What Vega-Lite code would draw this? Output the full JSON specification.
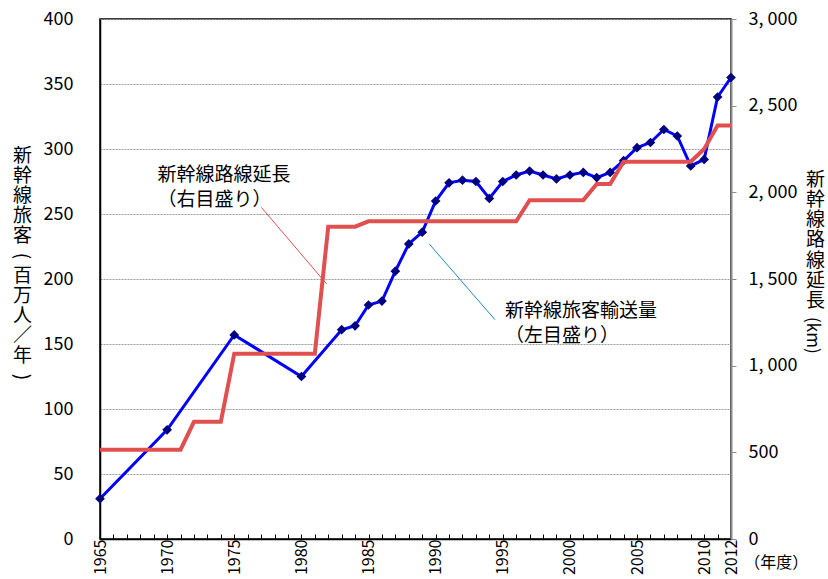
{
  "$schema": "https://vega.github.io/schema/vega-lite/v6.json",
  "width": 631,
  "height": 520,
  "autosize": {"type": "none"},
  "padding": {"left": 100, "top": 19, "right": 97, "bottom": 40},
  "background": "#ffffff",
  "config": {
    "font": "Noto Sans CJK JP",
    "view": {"stroke": "#000000", "strokeWidth": 1.5},
    "axisX": {
      "tickCount": 47,
      "labelExpr": "(datum.value % 5 == 0 || datum.value == 2012) ? format(datum.value, 'd') : ''",
      "grid": false,
      "domainColor": "#000000",
      "domainWidth": 1.5,
      "ticks": true,
      "tickColor": "#000000",
      "tickWidth": 1,
      "tickSize": -5,
      "labelAngle": -90,
      "labelAlign": "right",
      "labelBaseline": "middle",
      "labelPadding": 5,
      "labelFontSize": 16,
      "labelColor": "#000000",
      "labelOverlap": false,
      "labelFlush": false
    }
  },
  "datasets": {
    "passengers": [
      {"year": 1965, "value": 31}, {"year": 1970, "value": 84}, {"year": 1975, "value": 157},
      {"year": 1980, "value": 125}, {"year": 1983, "value": 161}, {"year": 1984, "value": 164},
      {"year": 1985, "value": 180}, {"year": 1986, "value": 183}, {"year": 1987, "value": 206},
      {"year": 1988, "value": 227}, {"year": 1989, "value": 236}, {"year": 1990, "value": 260},
      {"year": 1991, "value": 274}, {"year": 1992, "value": 276}, {"year": 1993, "value": 275},
      {"year": 1994, "value": 262}, {"year": 1995, "value": 275}, {"year": 1996, "value": 280},
      {"year": 1997, "value": 283}, {"year": 1998, "value": 280}, {"year": 1999, "value": 277},
      {"year": 2000, "value": 280}, {"year": 2001, "value": 282}, {"year": 2002, "value": 278},
      {"year": 2003, "value": 282}, {"year": 2004, "value": 291}, {"year": 2005, "value": 301},
      {"year": 2006, "value": 305}, {"year": 2007, "value": 315}, {"year": 2008, "value": 310},
      {"year": 2009, "value": 287}, {"year": 2010, "value": 292}, {"year": 2011, "value": 340},
      {"year": 2012, "value": 355}
    ],
    "km": [
      {"year": 1965, "km": 515}, {"year": 1966, "km": 515}, {"year": 1967, "km": 515},
      {"year": 1968, "km": 515}, {"year": 1969, "km": 515}, {"year": 1970, "km": 515},
      {"year": 1971, "km": 515}, {"year": 1972, "km": 676}, {"year": 1973, "km": 676},
      {"year": 1974, "km": 676}, {"year": 1975, "km": 1069}, {"year": 1976, "km": 1069},
      {"year": 1977, "km": 1069}, {"year": 1978, "km": 1069}, {"year": 1979, "km": 1069},
      {"year": 1980, "km": 1069}, {"year": 1981, "km": 1069}, {"year": 1982, "km": 1802},
      {"year": 1983, "km": 1802}, {"year": 1984, "km": 1802}, {"year": 1985, "km": 1833},
      {"year": 1986, "km": 1833}, {"year": 1987, "km": 1833}, {"year": 1988, "km": 1833},
      {"year": 1989, "km": 1833}, {"year": 1990, "km": 1833}, {"year": 1991, "km": 1833},
      {"year": 1992, "km": 1833}, {"year": 1993, "km": 1833}, {"year": 1994, "km": 1833},
      {"year": 1995, "km": 1833}, {"year": 1996, "km": 1833}, {"year": 1997, "km": 1955},
      {"year": 1998, "km": 1955}, {"year": 1999, "km": 1955}, {"year": 2000, "km": 1955},
      {"year": 2001, "km": 1955}, {"year": 2002, "km": 2048}, {"year": 2003, "km": 2048},
      {"year": 2004, "km": 2177}, {"year": 2005, "km": 2177}, {"year": 2006, "km": 2177},
      {"year": 2007, "km": 2177}, {"year": 2008, "km": 2177}, {"year": 2009, "km": 2177},
      {"year": 2010, "km": 2250}, {"year": 2011, "km": 2385}, {"year": 2012, "km": 2385}
    ],
    "leaders": [
      {"which": "red", "x1": 1977.02, "y1": 255.1, "x2": 1981.87, "y2": 196.3},
      {"which": "blue", "x1": 1989.52, "y1": 227.0, "x2": 1994.42, "y2": 168.7}
    ],
    "labels": [
      {"which": "red", "x": 1969.29, "y": 287, "text": ["新幹線路線延長", "（右目盛り）"]},
      {"which": "blue", "x": 1995.16, "y": 182.5, "text": ["新幹線旅客輸送量", "（左目盛り）"]}
    ],
    "extra": [
      {"x": 2015.37, "y": -18.4, "text": "（年度）"}
    ],
    "leftTitle": [
      {"x": 1959.22, "y": 301.5, "text": ["新", "幹", "線", "旅", "客"]},
      {"x": 1959.22, "y": 209.2, "text": ["百", "万", "人", "／", "年"]}
    ],
    "parens": [
      {"x": 1959.22, "y": 217.7, "text": "("},
      {"x": 1959.22, "y": 124.6, "text": ")"}
    ],
    "unit": [
      {"x": 2018.05, "y": 156.6, "text": "(km)"}
    ]
  },
  "layer": [
    {
      "layer": [
        {
          "data": {"name": "passengers"},
          "mark": {"type": "line", "color": "#0000ff", "strokeWidth": 3},
          "encoding": {
            "x": {
              "field": "year", "type": "quantitative",
              "scale": {"domain": [1965, 2012], "nice": false, "zero": false},
              "axis": {"title": null}
            },
            "y": {
              "field": "value", "type": "quantitative",
              "scale": {"domain": [0, 400], "nice": false},
              "axis": {
                "orient": "left",
                "values": [0, 50, 100, 150, 200, 250, 300, 350, 400],
                "grid": true,
                "gridColor": "#9a9a9a",
                "gridDash": [2, 1],
                "gridWidth": 1,
                "domainColor": "#000000",
                "domainWidth": 1.5,
                "ticks": false,
                "labelPadding": 27,
                "labelFontSize": 18,
                "labelColor": "#000000",
                "title": null
              }
            }
          }
        },
        {
          "data": {"name": "passengers"},
          "mark": {"type": "point", "shape": "diamond", "filled": true, "color": "#000080", "size": 95, "opacity": 1},
          "encoding": {
            "x": {"field": "year", "type": "quantitative", "axis": {"title": null}},
            "y": {"field": "value", "type": "quantitative"}
          }
        },
        {
          "data": {"name": "leaders"},
          "mark": {"type": "rule", "strokeWidth": 1},
          "encoding": {
            "x": {"field": "x1", "type": "quantitative", "axis": {"title": null}},
            "y": {"field": "y1", "type": "quantitative"},
            "x2": {"field": "x2"},
            "y2": {"field": "y2"},
            "color": {
              "field": "which", "type": "nominal",
              "scale": {"domain": ["red", "blue"], "range": ["#e0504f", "#1f86c8"]},
              "legend": null
            }
          }
        },
        {
          "data": {"name": "labels"},
          "mark": {"type": "text", "align": "left", "baseline": "top", "fontSize": 19, "lineHeight": 25, "color": "#000000"},
          "encoding": {
            "x": {"field": "x", "type": "quantitative", "axis": {"title": null}},
            "y": {"field": "y", "type": "quantitative"},
            "text": {"field": "text"}
          }
        },
        {
          "data": {"name": "extra"},
          "mark": {"type": "text", "align": "center", "baseline": "middle", "fontSize": 16, "color": "#000000"},
          "encoding": {
            "x": {"field": "x", "type": "quantitative", "axis": {"title": null}},
            "y": {"field": "y", "type": "quantitative"},
            "text": {"field": "text"}
          }
        },
        {
          "data": {"name": "leftTitle"},
          "mark": {"type": "text", "align": "center", "baseline": "top", "fontSize": 19, "lineHeight": 20, "color": "#000000"},
          "encoding": {
            "x": {"field": "x", "type": "quantitative", "axis": {"title": null}},
            "y": {"field": "y", "type": "quantitative"},
            "text": {"field": "text"}
          }
        },
        {
          "data": {"name": "parens"},
          "mark": {"type": "text", "align": "center", "baseline": "middle", "fontSize": 19, "angle": 90, "color": "#000000"},
          "encoding": {
            "x": {"field": "x", "type": "quantitative", "axis": {"title": null}},
            "y": {"field": "y", "type": "quantitative"},
            "text": {"field": "text"}
          }
        }
      ]
    },
    {
      "layer": [
        {
          "data": {"name": "km"},
          "mark": {"type": "line", "color": "#e0504f", "strokeWidth": 4},
          "encoding": {
            "x": {"field": "year", "type": "quantitative", "axis": {"title": null}},
            "y": {
              "field": "km", "type": "quantitative",
              "scale": {"domain": [0, 3000], "nice": false},
              "axis": {
                "orient": "right",
                "values": [0, 500, 1000, 1500, 2000, 2500, 3000],
                "grid": false,
                "domainColor": "#8a8a8a",
                "domainWidth": 2,
                "tickColor": "#8a8a8a",
                "tickSize": 5,
                "labelExpr": "replace(format(datum.value, ','), ',', ', ')",
                "labelPadding": 12,
                "labelFontSize": 18,
                "labelColor": "#000000",
                "title": ["新", "幹", "線", "路", "線", "延", "長"],
                "titleAngle": 0,
                "titleFontSize": 19,
                "titleFontWeight": "normal",
                "titleLineHeight": 20.3,
                "titleColor": "#000000",
                "titleAlign": "center",
                "titleBaseline": "top",
                "titleX": 84,
                "titleY": 151
              }
            }
          }
        },
        {
          "data": {"name": "unit"},
          "mark": {"type": "text", "align": "center", "baseline": "middle", "fontSize": 17, "angle": 90, "color": "#000000"},
          "encoding": {
            "x": {"field": "x", "type": "quantitative", "axis": {"title": null}},
            "y": {"field": "y", "type": "quantitative", "scale": {"domain": [0, 400], "nice": false}, "axis": null},
            "text": {"field": "text"}
          }
        }
      ],
      "resolve": {"scale": {"y": "independent"}}
    }
  ],
  "resolve": {"scale": {"y": "independent"}}
}
